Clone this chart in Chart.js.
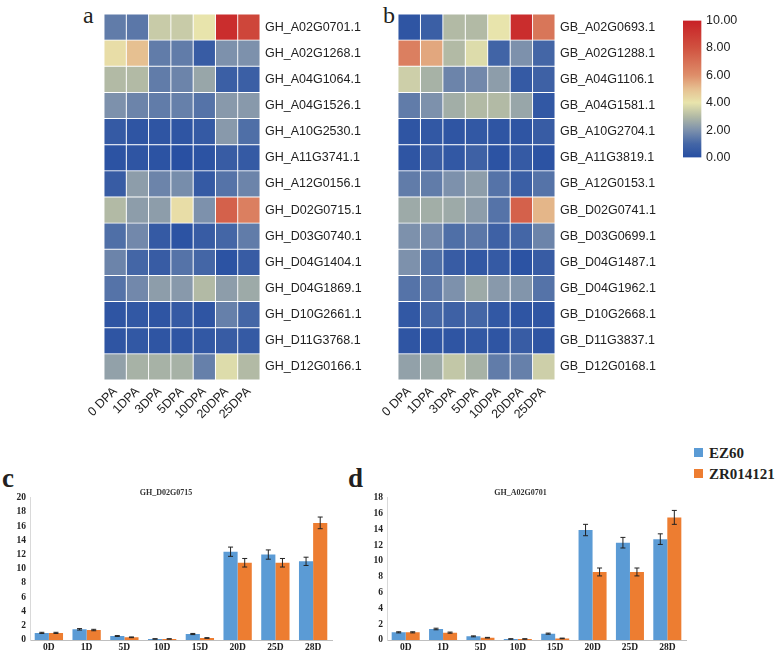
<!DOCTYPE html>
<html>
<head>
<meta charset="utf-8">
<script src="https://cdn.jsdelivr.net/npm/chart.js@4"></script>
<style>
  body { margin: 0; background: #fff; width: 778px; height: 651px; position: relative; overflow: hidden; }
  .box { position: absolute; }
  .tag { position: absolute; font-family: "Liberation Serif", serif; color: #231f20; line-height: 1; }
  .leg { position: absolute; font-family: "Liberation Serif", serif; font-weight: bold; font-size: 15px; color: #231f20; line-height: 1; }
  .leg span { display: inline-block; width: 9px; height: 9px; margin-right: 6px; vertical-align: 1px; }
</style>
</head>
<body>
<div class="tag" style="left:83px;top:3px;font-size:24px">a</div>
<div class="tag" style="left:383px;top:3px;font-size:24px">b</div>
<div class="tag" style="left:2px;top:465px;font-size:27px;font-weight:bold">c</div>
<div class="tag" style="left:348px;top:465px;font-size:27px;font-weight:bold">d</div>

<div class="box" style="left:50px;top:0;width:340px;height:440px"><canvas id="heatA"></canvas></div>
<div class="box" style="left:345px;top:0;width:320px;height:440px"><canvas id="heatB"></canvas></div>
<div class="box" style="left:683px;top:-10px;width:95px;height:198px"><canvas id="scaleBar"></canvas></div>
<div class="box" style="left:0;top:485px;width:370px;height:166px"><canvas id="barC"></canvas></div>
<div class="box" style="left:355px;top:485px;width:380px;height:166px"><canvas id="barD"></canvas></div>

<div class="leg" style="left:694px;top:446px"><span style="background:#5b9bd5"></span>EZ60</div>
<div class="leg" style="left:694px;top:467px"><span style="background:#ed7d31"></span>ZR014121</div>

<script>
// heatmap data
let dpaLabels = ["0 DPA", "1DPA", "3DPA", "5DPA", "10DPA", "20DPA", "25DPA"];
let ghGenes = ["GH_A02G0701.1", "GH_A02G1268.1", "GH_A04G1064.1", "GH_A04G1526.1", "GH_A10G2530.1", "GH_A11G3741.1", "GH_A12G0156.1",
  "GH_D02G0715.1", "GH_D03G0740.1", "GH_D04G1404.1", "GH_D04G1869.1", "GH_D10G2661.1", "GH_D11G3768.1", "GH_D12G0166.1"];
let ghExpr = [
  [1.5, 1.4, 3.4, 3.4, 4.0, 9.5, 8.5],
  [4.2, 5.0, 1.5, 1.5, 0.6, 2.0, 2.0],
  [3.0, 3.0, 1.5, 1.7, 2.5, 0.7, 0.7],
  [2.0, 1.7, 1.5, 1.6, 1.3, 2.2, 2.2],
  [0.5, 0.3, 0.3, 0.3, 0.5, 2.2, 1.2],
  [0.2, 0.3, 0.2, 0.1, 0.2, 0.6, 0.5],
  [0.6, 2.3, 1.7, 1.9, 0.5, 1.3, 1.7],
  [3.0, 2.3, 2.3, 4.2, 2.0, 7.5, 6.5],
  [1.2, 1.8, 0.5, 0.2, 0.6, 1.0, 1.5],
  [1.7, 1.0, 0.6, 1.3, 1.0, 0.2, 0.6],
  [1.3, 1.8, 2.3, 2.2, 3.0, 2.3, 2.6],
  [0.3, 0.4, 0.3, 0.5, 0.3, 1.6, 1.0],
  [0.3, 0.4, 0.3, 0.3, 0.4, 0.6, 0.5],
  [2.4, 2.8, 2.8, 2.8, 1.6, 3.8, 3.0]
];
let gbGenes = ["GB_A02G0693.1", "GB_A02G1288.1", "GB_A04G1106.1", "GB_A04G1581.1", "GB_A10G2704.1", "GB_A11G3819.1", "GB_A12G0153.1",
  "GB_D02G0741.1", "GB_D03G0699.1", "GB_D04G1487.1", "GB_D04G1962.1", "GB_D10G2668.1", "GB_D11G3837.1", "GB_D12G0168.1"];
let gbExpr = [
  [0.3, 0.7, 3.0, 3.0, 4.0, 9.5, 6.8],
  [6.5, 5.5, 3.0, 3.8, 0.9, 2.0, 1.0],
  [3.5, 2.8, 1.7, 1.8, 2.3, 0.5, 0.8],
  [1.5, 2.0, 2.7, 3.0, 3.0, 2.5, 0.4],
  [0.3, 0.4, 0.3, 0.4, 0.3, 0.3, 0.6],
  [0.3, 0.6, 0.4, 0.8, 0.2, 0.5, 0.2],
  [1.5, 1.5, 2.0, 2.3, 1.3, 0.7, 1.3],
  [2.6, 2.7, 2.6, 2.3, 1.3, 7.5, 5.2],
  [2.0, 1.8, 1.2, 1.4, 0.8, 1.0, 1.7],
  [2.0, 1.2, 0.6, 0.4, 0.5, 0.2, 0.6],
  [1.3, 1.4, 2.0, 2.6, 2.2, 2.1, 1.3],
  [0.4, 1.0, 0.8, 1.0, 0.4, 0.3, 0.3],
  [0.3, 0.3, 0.3, 0.4, 0.3, 0.6, 0.3],
  [2.4, 2.6, 3.3, 2.8, 1.5, 1.6, 3.5]
];
let scaleTicks = [0, 2, 4, 6, 8, 10];

// qPCR bars
let barDays = ["0D", "1D", "5D", "10D", "15D", "20D", "25D", "28D"];
let cEz60 = [1.0, 1.5, 0.56, 0.15, 0.84, 12.4, 12.0, 11.05];
let cEz60Err = [0.08, 0.1, 0.06, 0.03, 0.08, 0.65, 0.65, 0.58];
let cZr = [1.0, 1.4, 0.38, 0.15, 0.28, 10.85, 10.85, 16.45];
let cZrErr = [0.08, 0.1, 0.05, 0.03, 0.05, 0.6, 0.6, 0.82];
let dEz60 = [0.97, 1.39, 0.46, 0.13, 0.8, 13.9, 12.3, 12.75];
let dEz60Err = [0.07, 0.1, 0.06, 0.03, 0.07, 0.72, 0.67, 0.67];
let dZr = [0.97, 0.93, 0.29, 0.13, 0.2, 8.6, 8.6, 15.5];
let dZrErr = [0.07, 0.07, 0.04, 0.03, 0.04, 0.5, 0.5, 0.88];

// colour ramp, value -> colour
const ramp = [
  [0, [38, 78, 162]], [1, [68, 102, 166]], [2, [125, 145, 172]], [3, [178, 186, 165]],
  [4, [232, 228, 172]], [5, [230, 192, 145]], [6, [222, 142, 106]], [8, [208, 82, 64]], [10, [200, 32, 38]]
];
function colorFor(v) {
  for (let i = 1; i < ramp.length; i++) {
    if (v <= ramp[i][0]) {
      let a = ramp[i - 1], b = ramp[i], t = (v - a[0]) / (b[0] - a[0]);
      let c = a[1].map((x, k) => Math.round(x + (b[1][k] - x) * t));
      return `rgb(${c[0]},${c[1]},${c[2]})`;
    }
  }
  let c = ramp[ramp.length - 1][1];
  return `rgb(${c[0]},${c[1]},${c[2]})`;
}

function heatmap(id, genes, expr, padLeft, labelWidth) {
  new Chart(document.getElementById(id), {
    type: 'bar',
    data: {
      labels: genes,
      datasets: dpaLabels.map((d, col) => ({
        label: d,
        data: genes.map(() => 1),
        backgroundColor: expr.map(row => colorFor(row[col])),
        borderColor: '#ffffff',
        borderWidth: 0.8,
        borderSkipped: false,
        barPercentage: 1,
        categoryPercentage: 1
      }))
    },
    options: {
      indexAxis: 'y',
      responsive: true, maintainAspectRatio: false, animation: false,
      layout: { padding: { left: padLeft, top: 14, right: 0, bottom: 0 } },
      plugins: { legend: { display: false }, tooltip: { enabled: false } },
      scales: {
        x: {
          type: 'linear', stacked: true, min: 0, max: 7,
          grid: { display: false, drawTicks: false }, border: { display: false },
          afterBuildTicks: s => { s.ticks = dpaLabels.map((d, i) => ({ value: i + 0.5 })); },
          afterFit: s => { s.height = 60; },
          ticks: {
            minRotation: 45, maxRotation: 45, padding: 4, color: '#222',
            font: { family: 'Liberation Sans', size: 12.5 },
            callback: v => dpaLabels[Math.round(v - 0.5)]
          }
        },
        y: {
          stacked: true, position: 'right',
          grid: { display: false, drawTicks: false }, border: { display: false },
          afterFit: s => { s.width = labelWidth; },
          ticks: { padding: 5, color: '#222', font: { family: 'Liberation Sans', size: 12.5 } }
        }
      }
    }
  });
}
heatmap('heatA', ghGenes, ghExpr, 54, 130);
heatmap('heatB', gbGenes, gbExpr, 53, 110);

// colour scale bar: one gradient bar in the first of five slots, labels mirrored beside it
new Chart(document.getElementById('scaleBar'), {
  type: 'bar',
  data: {
    labels: ['', '', '', '', ''],
    datasets: [{
      data: [scaleTicks[scaleTicks.length - 1], null, null, null, null],
      barPercentage: 1, categoryPercentage: 1,
      borderWidth: 0,
      backgroundColor: ctx => {
        const area = ctx.chart.chartArea;
        if (!area) return '#888';
        const g = ctx.chart.ctx.createLinearGradient(0, area.bottom, 0, area.top);
        ramp.forEach(r => g.addColorStop(r[0] / 10, `rgb(${r[1].join(',')})`));
        return g;
      }
    }]
  },
  options: {
    responsive: true, maintainAspectRatio: false, animation: false,
    layout: { padding: { left: 0, top: 18, right: 5, bottom: 19 } },
    plugins: { legend: { display: false }, tooltip: { enabled: false } },
    scales: {
      x: { display: false },
      y: {
        position: 'left', min: 0, max: 10,
        grid: { display: false, drawTicks: false }, border: { display: false },
        afterFit: s => { s.width = 0; },
        afterBuildTicks: s => { s.ticks = scaleTicks.map(v => ({ value: v })); },
        ticks: { mirror: true, padding: 23, color: '#222', font: { family: 'Liberation Sans', size: 12.5 }, callback: v => v.toFixed(2) }
      }
    }
  }
});

// error bars drawn from each dataset's errors array
const errorBars = {
  id: 'errorBars',
  afterDatasetsDraw(chart) {
    const ctx = chart.ctx, yScale = chart.scales.y;
    ctx.save();
    ctx.strokeStyle = '#222';
    ctx.lineWidth = 1;
    chart.data.datasets.forEach((ds, i) => {
      chart.getDatasetMeta(i).data.forEach((bar, j) => {
        const top = yScale.getPixelForValue(ds.data[j] + ds.errors[j]);
        const bot = yScale.getPixelForValue(ds.data[j] - ds.errors[j]);
        ctx.beginPath();
        ctx.moveTo(bar.x, top); ctx.lineTo(bar.x, bot);
        ctx.moveTo(bar.x - 2.5, top); ctx.lineTo(bar.x + 2.5, top);
        ctx.moveTo(bar.x - 2.5, bot); ctx.lineTo(bar.x + 2.5, bot);
        ctx.stroke();
      });
    });
    ctx.restore();
  }
};

function qpcrChart(id, title, ez, ezErr, zr, zrErr, yMax, yWidth, padRight) {
  const serif = { family: 'Liberation Serif', size: 9.5, weight: 'bold' };
  new Chart(document.getElementById(id), {
    type: 'bar',
    data: {
      labels: barDays,
      datasets: [
        { label: 'EZ60', data: ez, errors: ezErr, backgroundColor: '#5b9bd5' },
        { label: 'ZR014121', data: zr, errors: zrErr, backgroundColor: '#ed7d31' }
      ]
    },
    options: {
      responsive: true, maintainAspectRatio: false, animation: false,
      datasets: { bar: { barPercentage: 1, categoryPercentage: 0.75 } },
      layout: { padding: { left: 0, top: 3, right: padRight, bottom: 0 } },
      plugins: {
        legend: { display: false }, tooltip: { enabled: false },
        title: { display: true, text: title, color: '#333', font: { family: 'Liberation Serif', size: 8, weight: 'bold' }, padding: { top: 0, bottom: 0 } }
      },
      scales: {
        x: {
          grid: { display: false, drawTicks: false },
          border: { display: true, color: '#bfbfbf' },
          afterFit: s => { s.height = 11; },
          ticks: { padding: 2, color: '#222', font: serif }
        },
        y: {
          min: 0, max: yMax,
          grid: { display: false, drawTicks: false },
          border: { display: true, color: '#d9d9d9' },
          afterFit: s => { s.width = yWidth; },
          ticks: { stepSize: 2, autoSkip: false, padding: 4, color: '#222', font: serif }
        }
      }
    },
    plugins: [errorBars]
  });
}
qpcrChart('barC', 'GH_D02G0715', cEz60, cEz60Err, cZr, cZrErr, 20, 30, 38);
qpcrChart('barD', 'GH_A02G0701', dEz60, dEz60Err, dZr, dZrErr, 18, 32, 49);
</script>
</body>
</html>
